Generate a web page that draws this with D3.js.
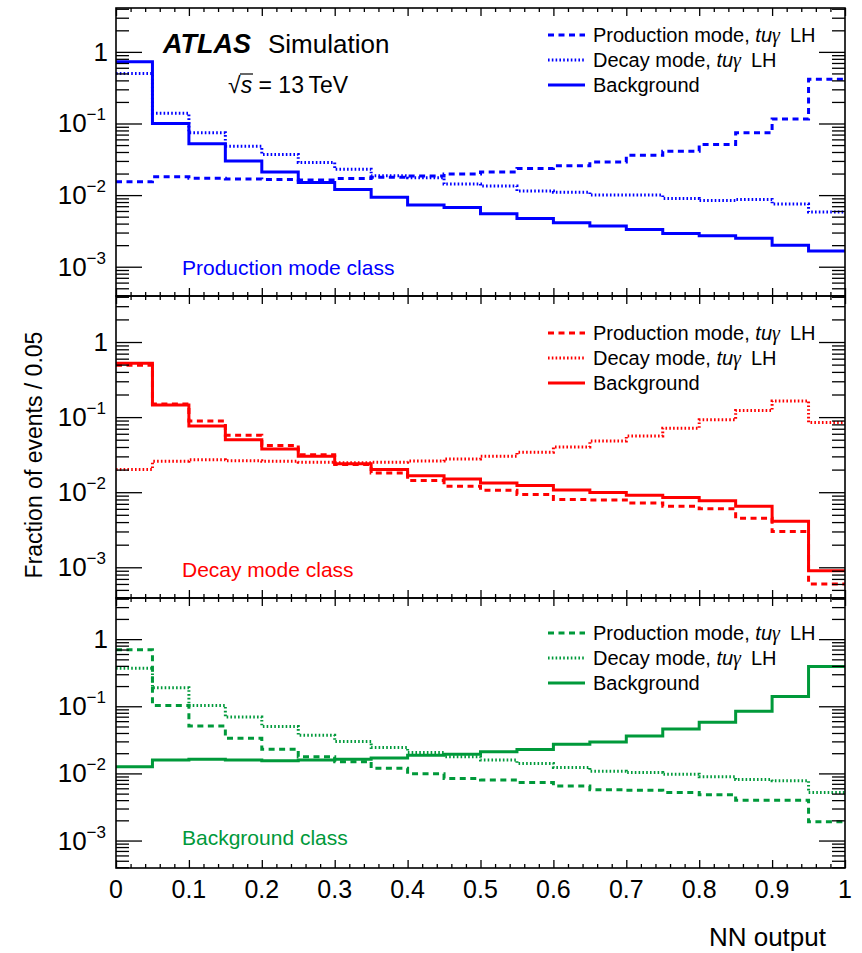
<!DOCTYPE html>
<html>
<head>
<meta charset="utf-8">
<script src="https://cdn.jsdelivr.net/npm/d3@7/dist/d3.min.js"></script>
<style>
  html, body { margin: 0; padding: 0; background: #fff; }
  svg { display: block; font-family: "Liberation Sans", Arial, Helvetica, sans-serif; }
</style>
</head>
<body>
<svg id="chart" width="862" height="953"></svg>
<script>
// ── Data ──────────────────────────────────────────────────────────────────────
const binEdges = [0, 0.05, 0.1, 0.15, 0.2, 0.25, 0.3, 0.35, 0.4, 0.45, 0.5,
                  0.55, 0.6, 0.65, 0.7, 0.75, 0.8, 0.85, 0.9, 0.95, 1.0];
const xTickLabels = ['0', '0.1', '0.2', '0.3', '0.4', '0.5', '0.6', '0.7', '0.8', '0.9', '1'];
const seriesNames = ['Production mode, ', 'Decay mode, ', 'Background'];
const classNames = ['Production mode class', 'Decay mode class', 'Background class'];

// Production mode class (blue)
const prodBlue  = [0.0154, 0.018, 0.0172, 0.0168, 0.0165, 0.0163, 0.017, 0.0178, 0.0185, 0.0197,
                   0.021, 0.0236, 0.0257, 0.029, 0.036, 0.041, 0.051, 0.074, 0.116, 0.415];
const decayBlue = [0.50, 0.139, 0.074, 0.048, 0.037, 0.0286, 0.023, 0.0186, 0.0175, 0.0143,
                   0.0134, 0.0114, 0.011, 0.010, 0.010, 0.009, 0.0084, 0.0087, 0.0075, 0.0058];
const bkgBlue   = [0.73, 0.10, 0.052, 0.030, 0.021, 0.015, 0.012, 0.0093, 0.0073, 0.0067,
                   0.0055, 0.0047, 0.0041, 0.0037, 0.0033, 0.0029, 0.0027, 0.0025, 0.0020, 0.00166];

// Decay mode class (red)
const prodRed  = [0.49, 0.15, 0.089, 0.0575, 0.042, 0.0316, 0.0233, 0.018, 0.0143, 0.012,
                  0.0106, 0.0093, 0.008, 0.0079, 0.0072, 0.0065, 0.006, 0.0045, 0.003, 0.0006];
const decayRed = [0.020, 0.0258, 0.027, 0.0263, 0.0258, 0.025, 0.0247, 0.025, 0.026, 0.0277,
                  0.030, 0.034, 0.040, 0.048, 0.056, 0.071, 0.092, 0.122, 0.164, 0.085];
const bkgRed   = [0.52, 0.145, 0.076, 0.05, 0.0376, 0.030, 0.024, 0.020, 0.0166, 0.015,
                  0.0133, 0.0123, 0.0107, 0.0099, 0.0091, 0.0085, 0.0077, 0.0065, 0.0041, 0.0009];

// Background class (green)
const prodGreen  = [0.695, 0.103, 0.051, 0.0334, 0.023, 0.0177, 0.0149, 0.0119, 0.0099, 0.0084,
                    0.0080, 0.0073, 0.0065, 0.0057, 0.0056, 0.0052, 0.0048, 0.004, 0.004, 0.0019];
const decayGreen = [0.37, 0.188, 0.103, 0.069, 0.050, 0.037, 0.030, 0.0243, 0.0205, 0.0177,
                    0.0158, 0.0141, 0.0123, 0.0108, 0.0103, 0.0097, 0.0089, 0.0081, 0.0078, 0.0052];
const bkgGreen   = [0.0126, 0.0158, 0.0163, 0.0158, 0.0154, 0.0158, 0.0163, 0.017, 0.0187, 0.0193,
                    0.021, 0.0227, 0.0272, 0.0294, 0.036, 0.046, 0.058, 0.084, 0.14, 0.39];

// ── Layout ────────────────────────────────────────────────────────────────────
const svg = d3.select('#chart');
const x0 = 116, x1 = 845;
const yDomain = [3.9e-4, 4.1];

const panels = [
  { top: 8,   bottom: 296, color: '#0000ff', series: [prodBlue, decayBlue, bkgBlue],
    legendY: 35, classY: 275 },
  { top: 296, bottom: 598, color: '#ff0000', series: [prodRed, decayRed, bkgRed],
    legendY: 333, classY: 577 },
  { top: 598, bottom: 868, color: '#00993a', series: [prodGreen, decayGreen, bkgGreen],
    legendY: 633, classY: 845 }
];

const styles = [
  { dash: '6,4.5' },   // production: dashed
  { dash: '1.6,2.2' }, // decay: dotted
  { dash: null }       // background: solid
];

const x = d3.scaleLinear().domain([0, 1]).range([x0, x1]);

const majorY = [1e-3, 1e-2, 1e-1, 1];
const minorY = [];
[1e-4, 1e-3, 1e-2, 1e-1, 1].forEach(d => {
  for (let k = 2; k <= 9; k++) {
    const v = d * k;
    if (v > yDomain[0] && v < yDomain[1]) minorY.push(v);
  }
});
const xMajor = d3.range(0, 11).map(i => i / 10);
const xMinor = d3.range(0, 51).map(i => i / 50).filter(v => Math.round(v * 50) % 5 !== 0);

panels.forEach((p, pi) => {
  const y = d3.scaleLog().domain(yDomain).range([p.bottom, p.top]);
  const g = svg.append('g');

  // clip
  const clipId = 'clip' + pi;
  svg.append('clipPath').attr('id', clipId)
    .append('rect').attr('x', x0).attr('y', p.top).attr('width', x1 - x0).attr('height', p.bottom - p.top);

  // histograms
  const line = d3.line()
    .x(d => x(d[0])).y(d => y(d[1]))
    .curve(d3.curveStepAfter);
  p.series.forEach((vals, si) => {
    const pts = vals.map((v, i) => [binEdges[i], v]);
    pts.push([binEdges[binEdges.length - 1], vals[vals.length - 1]]);
    g.append('path')
      .attr('clip-path', `url(#${clipId})`)
      .attr('d', line(pts))
      .attr('fill', 'none')
      .attr('stroke', p.color)
      .attr('stroke-width', 3)
      .attr('stroke-dasharray', styles[si].dash);
  });

  // y axes (left and right), ticks inward
  const yl = g.append('g').attr('transform', `translate(${x0},0)`);
  yl.call(d3.axisRight(y).tickValues(majorY).tickSize(26).tickFormat(''));
  yl.append('g').call(d3.axisRight(y).tickValues(minorY).tickSize(13).tickFormat(''));
  const yr = g.append('g').attr('transform', `translate(${x1},0)`);
  yr.call(d3.axisLeft(y).tickValues(majorY).tickSize(26).tickFormat(''));
  yr.append('g').call(d3.axisLeft(y).tickValues(minorY).tickSize(13).tickFormat(''));

  // x ticks top and bottom
  const xb = g.append('g').attr('transform', `translate(0,${p.bottom})`);
  xb.call(d3.axisTop(x).tickValues(xMajor).tickSize(8).tickFormat(''));
  xb.append('g').call(d3.axisTop(x).tickValues(xMinor).tickSize(4).tickFormat(''));
  const xt = g.append('g').attr('transform', `translate(0,${p.top})`);
  xt.call(d3.axisBottom(x).tickValues(xMajor).tickSize(8).tickFormat(''));
  xt.append('g').call(d3.axisBottom(x).tickValues(xMinor).tickSize(4).tickFormat(''));

  g.selectAll('.domain').remove();
  g.selectAll('.tick line').attr('stroke', '#000').attr('stroke-width', 1.3);

  // frame
  g.append('rect')
    .attr('x', x0).attr('y', p.top)
    .attr('width', x1 - x0).attr('height', p.bottom - p.top)
    .attr('fill', 'none').attr('stroke', '#000').attr('stroke-width', 1.6);

  // y tick labels
  majorY.forEach(v => {
    const exp = Math.round(Math.log10(v));
    const t = g.append('text')
      .attr('x', 106).attr('y', y(v) + 9)
      .attr('text-anchor', 'end')
      .attr('font-size', 26).attr('fill', '#000');
    if (exp === 0) {
      t.attr('x', 108).text('1');
    } else {
      t.append('tspan').text('10');
      t.append('tspan').attr('font-size', 17).attr('dy', -12).text('\u2212' + (-exp));
    }
  });

  // legend
  const lx = 548, tx = 593;
  seriesNames.forEach((name, si) => {
    const ly = p.legendY + si * 25;
    g.append('line')
      .attr('x1', lx).attr('x2', lx + 37).attr('y1', ly).attr('y2', ly)
      .attr('stroke', p.color).attr('stroke-width', 3)
      .attr('stroke-dasharray', styles[si].dash);
    const t = g.append('text').attr('x', tx).attr('y', ly + 7)
      .attr('font-size', 20).attr('fill', '#000');
    t.append('tspan').text(name);
    if (si < 2) {
      t.append('tspan').attr('font-style', 'italic').text('tu');
      t.append('tspan').attr('font-style', 'italic')
        .attr('font-family', '"Liberation Serif", "DejaVu Serif", serif').text('\u03b3');
      t.append('tspan').text('\u2002LH');
    }
  });

  // class label
  g.append('text')
    .attr('x', 182).attr('y', p.classY)
    .attr('font-size', 21).attr('fill', p.color)
    .text(classNames[pi]);
});

// ATLAS label
const atlas = svg.append('text').attr('x', 163).attr('y', 53).attr('font-size', 26);
atlas.append('tspan').attr('font-weight', 'bold').attr('font-style', 'italic')
  .attr('font-size', 27).text('ATLAS');
atlas.append('tspan').attr('x', 268).text('Simulation');

const sq = svg.append('text').attr('x', 228).attr('y', 93).attr('font-size', 23);
sq.append('tspan').text('\u221a');
sq.append('tspan').attr('font-style', 'italic').text('s');
sq.append('tspan').text(' = 13\u2009TeV');
// overline for sqrt
svg.append('line').attr('x1', 240).attr('x2', 253).attr('y1', 74).attr('y2', 74)
  .attr('stroke', '#000').attr('stroke-width', 1.2);

// x tick labels
const xl = svg.append('g');
xTickLabels.forEach((lab, i) => {
  xl.append('text')
    .attr('x', x(xMajor[i])).attr('y', 898)
    .attr('text-anchor', 'middle')
    .attr('font-size', 25).text(lab);
});

// axis titles
svg.append('text')
  .attr('x', 826).attr('y', 946)
  .attr('text-anchor', 'end').attr('font-size', 26)
  .text('NN output');

svg.append('text')
  .attr('transform', 'translate(42,455) rotate(-90)')
  .attr('text-anchor', 'middle').attr('font-size', 23)
  .text('Fraction of events / 0.05');
</script>
</body>
</html>
